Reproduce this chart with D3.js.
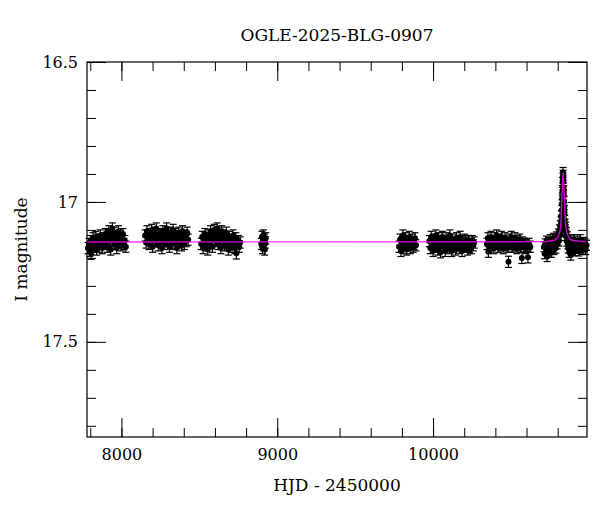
<!DOCTYPE html>
<html>
  <head>
    <meta charset="UTF-8">
    <script src="https://cdn.jsdelivr.net/npm/d3@7"></script>
    <style>
      body { margin: 0; background: #fff; }
      text { font-family: "DejaVu Serif", serif; fill: #000; }
    </style>
  </head>
  <body>
    <svg id="chart" width="600" height="512"></svg>
    <script type="text/javascript">
      // photometry, one array per observing season: [HJD-2450000, I mag]
      var season1 = [[7786,17.165],[7792,17.150],[7797,17.175],[7801,17.140],[7806,17.185],[7812,17.155],[7818,17.130],[7823,17.160],[7829,17.145],[7835,17.125],[7841,17.170],[7846,17.150],[7852,17.135],[7858,17.160],[7864,17.120],[7870,17.145],[7877,17.165],[7884,17.130],[7890,17.150],[7896,17.115],[7902,17.140],[7908,17.160],[7914,17.120],[7919,17.105],[7925,17.135],[7931,17.170],[7936,17.125],[7942,17.095],[7948,17.140],[7953,17.110],[7959,17.150],[7964,17.125],[7970,17.165],[7976,17.130],[7981,17.105],[7987,17.145],[7993,17.120],[7998,17.155],[8004,17.135],[8010,17.115],[8016,17.150],[8022,17.140],[8028,17.160]];
      var season2 = [[8152,17.120],[8158,17.145],[8164,17.105],[8170,17.130],[8176,17.150],[8182,17.115],[8188,17.135],[8194,17.100],[8200,17.160],[8206,17.125],[8212,17.110],[8218,17.140],[8224,17.095],[8230,17.130],[8236,17.155],[8242,17.115],[8248,17.140],[8254,17.120],[8260,17.165],[8266,17.105],[8272,17.135],[8278,17.150],[8284,17.115],[8290,17.095],[8296,17.140],[8302,17.125],[8308,17.160],[8314,17.110],[8320,17.135],[8326,17.150],[8332,17.100],[8338,17.125],[8344,17.145],[8350,17.115],[8356,17.165],[8362,17.130],[8368,17.110],[8374,17.145],[8380,17.125],[8386,17.155],[8392,17.105],[8398,17.135],[8404,17.150],[8410,17.120],[8416,17.140],[8422,17.110],[8428,17.135]];
      var season3 = [[8512,17.150],[8518,17.125],[8524,17.165],[8530,17.140],[8536,17.115],[8542,17.155],[8548,17.130],[8554,17.170],[8560,17.120],[8566,17.145],[8572,17.105],[8578,17.135],[8584,17.160],[8590,17.115],[8596,17.100],[8602,17.140],[8608,17.125],[8614,17.095],[8620,17.150],[8626,17.110],[8632,17.130],[8638,17.165],[8644,17.105],[8650,17.140],[8656,17.120],[8662,17.155],[8668,17.130],[8674,17.110],[8680,17.145],[8686,17.170],[8692,17.125],[8698,17.150],[8704,17.135],[8710,17.160],[8716,17.120],[8722,17.145],[8728,17.165],[8734,17.130],[8738,17.184],[8744,17.150],[8750,17.140],[8756,17.160],[8762,17.145]];
      var season4 = [[8898,17.150],[8902,17.125],[8905,17.165],[8908,17.140],[8911,17.120],[8914,17.155],[8917,17.135],[8920,17.170],[8923,17.145],[8926,17.130]];
      var season5 = [[9782,17.160],[9788,17.135],[9794,17.175],[9800,17.145],[9806,17.120],[9812,17.165],[9818,17.150],[9824,17.130],[9830,17.170],[9836,17.140],[9842,17.155],[9848,17.125],[9854,17.165],[9860,17.145],[9866,17.135],[9872,17.160],[9878,17.150],[9884,17.130],[9890,17.155]];
      var season6 = [[9976,17.140],[9982,17.165],[9988,17.125],[9994,17.150],[10000,17.175],[10006,17.135],[10012,17.160],[10018,17.120],[10024,17.145],[10030,17.170],[10036,17.130],[10042,17.155],[10048,17.180],[10054,17.140],[10060,17.125],[10066,17.160],[10072,17.145],[10078,17.175],[10084,17.130],[10090,17.155],[10096,17.140],[10102,17.165],[10108,17.120],[10114,17.150],[10120,17.175],[10126,17.135],[10132,17.160],[10138,17.145],[10144,17.170],[10150,17.130],[10156,17.155],[10162,17.140],[10168,17.165],[10174,17.125],[10180,17.150],[10186,17.175],[10192,17.140],[10198,17.160],[10204,17.135],[10210,17.155],[10216,17.145],[10222,17.170],[10228,17.140],[10234,17.160],[10240,17.150],[10246,17.165],[10252,17.140],[10258,17.155],[10264,17.145]];
      var season7 = [[10346,17.150],[10352,17.130],[10355,17.178],[10360,17.160],[10366,17.140],[10372,17.125],[10378,17.155],[10384,17.145],[10390,17.165],[10396,17.130],[10402,17.150],[10408,17.120],[10414,17.145],[10420,17.160],[10426,17.135],[10432,17.155],[10438,17.125],[10444,17.150],[10450,17.165],[10456,17.140],[10462,17.130],[10468,17.155],[10474,17.145],[10480,17.160],[10484,17.214],[10490,17.135],[10496,17.150],[10502,17.125],[10508,17.160],[10514,17.140],[10520,17.155],[10526,17.130],[10532,17.150],[10538,17.165],[10544,17.140],[10550,17.155],[10556,17.135],[10562,17.160],[10570,17.200],[10576,17.145],[10582,17.160],[10588,17.150],[10594,17.165],[10600,17.155],[10609,17.198],[10616,17.150],[10624,17.160]];
      var season8 = [[10712,17.160],[10716,17.185],[10720,17.150],[10724,17.170],[10728,17.140],[10732,17.195],[10736,17.160],[10740,17.145],[10744,17.175],[10748,17.155],[10752,17.135],[10756,17.165],[10760,17.180],[10764,17.145],[10768,17.160],[10772,17.130],[10776,17.170],[10780,17.150],[10784,17.140],[10788,17.165],[10792,17.125],[10796,17.150],[10800,17.135],[10804,17.115],[10808,17.140],[10811,17.100],[10814,17.120],[10817,17.085],[10819,17.105],[10821,17.070],[10823,17.050],[10825,17.075],[10826,17.030],[10828,17.010],[10829,16.990],[10830,16.960],[10831,16.985],[10832,16.930],[10833,16.915],[10834,16.895],[10835,16.905],[10836,16.925],[10837,16.950],[10838,16.975],[10839,16.960],[10840,17.000],[10841,17.020],[10842,17.045],[10843,17.030],[10845,17.065],[10847,17.080],[10849,17.100],[10851,17.090],[10853,17.120],[10856,17.110],[10859,17.140],[10862,17.125],[10865,17.150],[10868,17.165],[10871,17.135],[10874,17.180],[10877,17.155],[10880,17.140],[10884,17.190],[10888,17.160],[10892,17.145],[10896,17.170],[10900,17.155],[10905,17.135],[10910,17.175],[10915,17.150],[10920,17.165],[10925,17.140],[10930,17.160],[10935,17.175],[10940,17.150],[10945,17.135],[10950,17.165],[10955,17.155],[10960,17.170],[10965,17.145],[10970,17.160],[10975,17.150],[10980,17.170],[10985,17.155]];
      var seasons = [season1, season2, season3, season4, season5, season6, season7, season8];
      var seasonErr = [0.02, 0.02, 0.02, 0.02, 0.02, 0.02, 0.02, 0.018];

      // model light curve
      var model = [[7779,17.143],[10717,17.142],[10781,17.136],[10807,17.118],[10819,17.088],[10824,17.029],[10828,16.969],[10832,16.921],[10835,16.896],[10838,16.921],[10842,16.969],[10846,17.029],[10852,17.088],[10864,17.118],[10888,17.136],[10973,17.142],[10988,17.143]];

      var xMajor = [8000, 9000, 10000];
      var yMajor = [16.5, 17, 17.5];
      var title = 'OGLE-2025-BLG-0907';

      var L = 87, R = 587, T = 62, B = 437;
      var svg = d3.select('#chart');
      var x = d3.scaleLinear().domain([7779, 10988]).range([L, R]);
      var y = d3.scaleLinear().domain([16.5, 17.84]).range([T, B]);

      var xMinor = d3.range(7800, 11000, 200);
      var yMinor = d3.range(16.6, 17.84, 0.1);

      function axisStyle(g) {
        g.select('.domain').remove();
        g.selectAll('line').attr('stroke', '#000');
      }
      // ticks pointing inwards on all four sides
      svg.append('g').attr('transform', 'translate(0,' + B + ')')
        .call(d3.axisBottom(x).tickValues(xMinor).tickSize(-9).tickFormat('')).call(axisStyle);
      svg.append('g').attr('transform', 'translate(0,' + B + ')')
        .call(d3.axisBottom(x).tickValues(xMajor).tickSize(-19).tickPadding(12).tickFormat(d3.format('d')))
        .call(axisStyle)
        .selectAll('text').attr('font-size', 16).attr('font-family', 'DejaVu Serif');
      svg.append('g').attr('transform', 'translate(0,' + T + ')')
        .call(d3.axisTop(x).tickValues(xMinor).tickSize(-9).tickFormat('')).call(axisStyle);
      svg.append('g').attr('transform', 'translate(0,' + T + ')')
        .call(d3.axisTop(x).tickValues(xMajor).tickSize(-19).tickFormat('')).call(axisStyle);
      svg.append('g').attr('transform', 'translate(' + L + ',0)')
        .call(d3.axisLeft(y).tickValues(yMinor).tickSize(-9).tickFormat('')).call(axisStyle);
      svg.append('g').attr('transform', 'translate(' + L + ',0)')
        .call(d3.axisLeft(y).tickValues(yMajor).tickSize(-19).tickPadding(9).tickFormat(d3.format('')))
        .call(axisStyle)
        .selectAll('text').attr('font-size', 16).attr('font-family', 'DejaVu Serif');
      svg.append('g').attr('transform', 'translate(' + R + ',0)')
        .call(d3.axisRight(y).tickValues(yMinor).tickSize(-9).tickFormat('')).call(axisStyle);
      svg.append('g').attr('transform', 'translate(' + R + ',0)')
        .call(d3.axisRight(y).tickValues(yMajor).tickSize(-19).tickFormat('')).call(axisStyle);

      // data points with error bars
      var pts = svg.append('g');
      seasons.forEach(function(s, i) {
        var e = seasonErr[i];
        var g = pts.selectAll(null).data(s).enter().append('g');
        g.append('line')
          .attr('x1', function(d) { return x(d[0]); }).attr('x2', function(d) { return x(d[0]); })
          .attr('y1', function(d) { return y(d[1] - e); }).attr('y2', function(d) { return y(d[1] + e); })
          .attr('stroke', '#000').attr('stroke-width', 1.2);
        [-1, 1].forEach(function(sg) {
          g.append('line')
            .attr('x1', function(d) { return x(d[0]) - 3.5; }).attr('x2', function(d) { return x(d[0]) + 3.5; })
            .attr('y1', function(d) { return y(d[1] + sg * e); }).attr('y2', function(d) { return y(d[1] + sg * e); })
            .attr('stroke', '#000').attr('stroke-width', 1.2);
        });
        g.append('circle')
          .attr('cx', function(d) { return x(d[0]); })
          .attr('cy', function(d) { return y(d[1]); })
          .attr('r', 3).attr('fill', '#000');
      });

      svg.append('path').datum(model)
        .attr('d', d3.line().x(function(d) { return x(d[0]); }).y(function(d) { return y(d[1]); }).curve(d3.curveMonotoneX))
        .attr('fill', 'none').attr('stroke', '#ff00ff').attr('stroke-opacity', 0.8).attr('stroke-width', 1.4);

      svg.append('rect').attr('x', L).attr('y', T).attr('width', R - L).attr('height', B - T)
        .attr('fill', 'none').attr('stroke', '#000').attr('stroke-width', 1.2);

      svg.append('text').attr('x', (L + R) / 2).attr('y', 41).attr('text-anchor', 'middle')
        .attr('font-size', 17).text(title);
      svg.append('text').attr('x', (L + R) / 2).attr('y', 491).attr('text-anchor', 'middle')
        .attr('font-size', 17).text('HJD - 2450000');
      svg.append('text').attr('transform', 'translate(27,' + (T + B) / 2 + ') rotate(-90)')
        .attr('text-anchor', 'middle').attr('font-size', 17).text('I magnitude');
    </script>
  </body>
</html>
